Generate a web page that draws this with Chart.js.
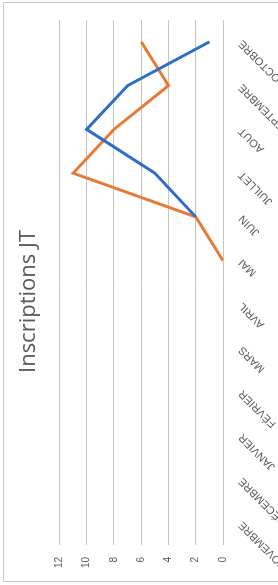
<!DOCTYPE html>
<html>
<head>
<meta charset="utf-8">
<script src="https://cdn.jsdelivr.net/npm/chart.js@4/dist/chart.umd.min.js"></script>
<style>
  html, body { margin: 0; padding: 0; background: #fff; }
  #page { position: relative; width: 278px; height: 585px; overflow: hidden; background: #fff; }
  /* the scanned sheet is turned a quarter turn, so the chart is drawn upright then rotated */
  #frame { position: absolute; left: 3px; top: 2px; width: 320px; height: 580px;
           border: 1px solid #c8c8c8; border-right: none; box-sizing: border-box; }
  #rot { position: absolute; left: 0; top: 0; width: 585px; height: 320px;
         transform-origin: 0 0; transform: translateY(585px) rotate(-90deg); }
</style>
</head>
<body>
<div id="page">
  <div id="frame"></div>
  <div id="rot"><canvas id="chart" width="585" height="320"></canvas></div>
</div>
<script>
// ── Data ─────────────────────────────────
const months = ['NOVEMBRE','DÉCEMBRE','JANVIER','FÉVRIER','MARS','AVRIL',
                'MAI','JUIN','JUILLET','AOUT','SEPTEMBRE','OCTOBRE'];
const serieBleue  = [null, null, null, null, null, null, null, 2, 5, 10, 7, 1];
const serieOrange = [null, null, null, null, null, null, 0, 2, 11, 8, 4, 6];
const yTicks = [0, 2, 4, 6, 8, 10, 12];

const grey = '#595959';

new Chart(document.getElementById('chart'), {
    type: 'line',
    data: {
        labels: months,
        datasets: [
            { label: 'Série 1', data: serieBleue,  borderColor: '#2f6ec8', borderWidth: 3,
              pointRadius: 0, tension: 0, spanGaps: false },
            { label: 'Série 2', data: serieOrange, borderColor: '#e87a35', borderWidth: 3,
              pointRadius: 0, tension: 0, spanGaps: false },
        ]
    },
    options: {
        responsive: false,
        animation: false,
        layout: { padding: { left: 2, right: 20, top: 0, bottom: 0 } },
        plugins: {
            legend: { display: false },
            tooltip: { enabled: false },
            title: {
                display: true,
                text: 'Inscriptions JT',
                color: grey,
                font: { family: 'Open Sans', size: 22, weight: '400' },
                padding: { top: 16, bottom: 17 }
            }
        },
        scales: {
            x: {
                offset: true,
                grid: { display: false },
                border: { display: false },
                ticks: {
                    color: grey, font: { family: 'Liberation Sans', size: 11 },
                    minRotation: 45, maxRotation: 45, padding: 5, autoSkip: false
                },
                afterFit: s => { s.height = 97; }
            },
            y: {
                min: 0, max: 12,
                afterBuildTicks: s => { s.ticks = yTicks.map(v => ({ value: v })); },
                grid: { color: '#c4c4c4', lineWidth: 1, drawTicks: false },
                border: { display: false },
                ticks: { color: grey, font: { family: 'Liberation Sans', size: 10 }, padding: 12 },
                afterFit: s => { s.width = 38; }
            }
        }
    }
});
</script>
</body>
</html>
